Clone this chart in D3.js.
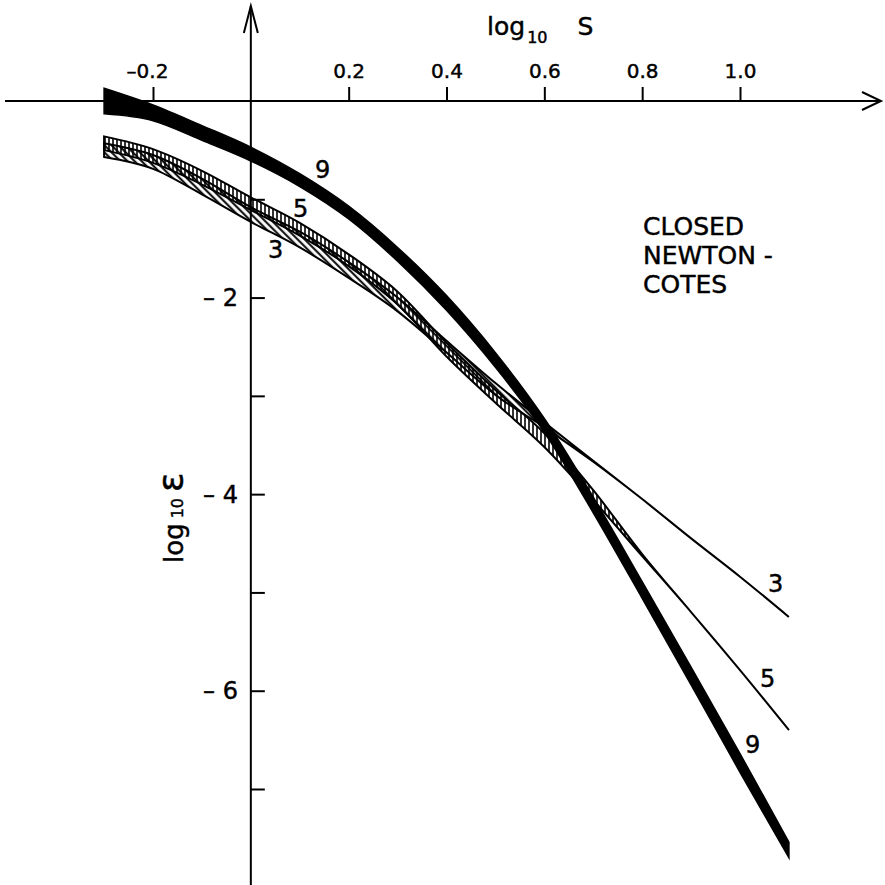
<!DOCTYPE html>
<html><head><meta charset="utf-8">
<script src="https://cdn.jsdelivr.net/npm/d3@7"></script>
<style>body{margin:0;background:#fff} text{font-family:"DejaVu Sans",sans-serif;fill:#000;stroke:#000;stroke-width:0.45px}</style>
</head><body>
<svg id="c" width="885" height="885"></svg>
<script>
// ---- data (log10 S, log10 epsilon band limits) ----
const logS = [-0.3, -0.2, -0.1, 0, 0.1, 0.2, 0.3, 0.4, 0.5, 0.6, 0.7, 0.8, 0.9, 1.0, 1.1];
const rule9Upper = [0.13, -0.04, -0.25, -0.47, -0.74, -1.07, -1.49, -1.98, -2.56, -3.23, -4.03, -4.89, -5.76, -6.64, -7.54];
const rule9Lower = [-0.13, -0.20, -0.40, -0.61, -0.87, -1.20, -1.63, -2.13, -2.71, -3.37, -4.19, -5.06, -5.94, -6.83, -7.70];
const rule5Upper = [-0.36, -0.49, -0.71, -0.98, -1.24, -1.56, -1.94, -2.46, -2.94, -3.38, -3.96, -4.61, -5.20, -5.79, -6.40];
const rule5Lower = [-0.50, -0.63, -0.85, -1.11, -1.37, -1.68, -2.07, -2.60, -3.07, -3.52, -4.06, -4.63, -5.20, -5.79, -6.40];
const rule3Upper = [-0.43, -0.55, -0.79, -1.08, -1.33, -1.64, -2.00, -2.44, -2.87, -3.27, -3.66, -4.05, -4.45, -4.84, -5.25];
const rule3Lower = [-0.57, -0.69, -0.95, -1.23, -1.49, -1.80, -2.14, -2.56, -2.99, -3.32, -3.67, -4.05, -4.45, -4.84, -5.25];
const xTicks = [-0.2, 0.2, 0.4, 0.6, 0.8, 1.0];
const xTickLabels = ["\u20130.2", "0.2", "0.4", "0.6", "0.8", "1.0"];
const yTicks = [-1, -2, -3, -4, -5, -6, -7];
const yLabelTicks = [-2, -4, -6];
const yTickLabels = ["\u2013 2", "\u2013 4", "\u2013 6"];
const noteLines = ["CLOSED", "NEWTON -", "COTES"];

const svg = d3.select("#c");
const x = d3.scaleLinear().domain([-0.2, 1.0]).range([153, 740]);
const y = d3.scaleLinear().domain([0, -7]).range([101, 789]);

// patterns
const defs = svg.append("defs");
const pv = defs.append("pattern").attr("id", "vert").attr("patternUnits", "userSpaceOnUse")
  .attr("width", 4).attr("height", 4);
pv.append("line").attr("x1", 1).attr("x2", 1).attr("y1", -1).attr("y2", 5).attr("stroke", "#000").attr("stroke-width", 1.6);
const pd = defs.append("pattern").attr("id", "diag").attr("patternUnits", "userSpaceOnUse")
  .attr("width", 5).attr("height", 5).attr("patternTransform", "rotate(-45)");
pd.append("line").attr("x1", 1.2).attr("x2", 1.2).attr("y1", -1).attr("y2", 6).attr("stroke", "#000").attr("stroke-width", 2);

const mk = (hi, lo) => logS.map((s, i) => ({s, hi: hi[i], lo: lo[i]}));
const area = d3.area().x(d => x(d.s)).y0(d => y(d.lo)).y1(d => y(d.hi)).curve(d3.curveMonotoneX);

svg.append("path").datum(mk(rule9Upper, rule9Lower)).attr("d", area)
  .attr("fill", "#000").attr("stroke", "#000").attr("stroke-width", 1.5);
svg.append("path").datum(mk(rule5Upper, rule5Lower)).attr("d", area)
  .attr("fill", "url(#vert)").attr("stroke", "#000").attr("stroke-width", 2);
svg.append("path").datum(mk(rule3Upper, rule3Lower)).attr("d", area)
  .attr("fill", "url(#diag)").attr("stroke", "#000").attr("stroke-width", 2);

// axes
const ax = svg.append("g").attr("stroke", "#000").attr("stroke-width", 2).attr("fill", "none");
ax.append("line").attr("x1", 5).attr("x2", 880).attr("y1", y(0)).attr("y2", y(0));
ax.append("path").attr("d", `M862,${y(0)-9} L881,${y(0)} L862,${y(0)+9}`);
ax.append("line").attr("x1", x(0)).attr("x2", x(0)).attr("y1", 6).attr("y2", 885);
ax.append("path").attr("d", `M${x(0)-7},33 L${x(0)},6 L${x(0)+7},33`);

const xAxis = d3.axisTop(x).tickValues(xTicks).tickSize(14).tickPadding(9)
  .tickFormat((d, i) => xTickLabels[i]);
const gx = svg.append("g").attr("transform", `translate(0,${y(0)})`).call(xAxis);
gx.attr("font-size", null).attr("font-family", null);
gx.select(".domain").remove();
gx.selectAll(".tick line").attr("stroke", "#000").attr("stroke-width", 2);
gx.selectAll(".tick text").style("font-size", "20px").attr("fill", "#000")
  .attr("dx", (d, i) => i === 0 ? -6 : 0);

const yAxis = d3.axisRight(y).tickValues(yTicks).tickSize(14).tickFormat("");
const gy = svg.append("g").attr("transform", `translate(${x(0)},0)`).call(yAxis);
gy.select(".domain").remove();
gy.selectAll(".tick line").attr("stroke", "#000").attr("stroke-width", 2);

svg.append("g").selectAll("text").data(yLabelTicks).join("text")
  .attr("x", 238).attr("y", d => y(d)).attr("dy", "0.36em")
  .attr("text-anchor", "end").style("font-size", "24px").text((d, i) => yTickLabels[i]);

// axis titles
const tx = svg.append("text").attr("x", 487).attr("y", 35).style("font-size", "25px");
tx.append("tspan").text("log");
tx.append("tspan").style("font-size", "16px").attr("dy", 8).attr("dx", 2).text("10");
tx.append("tspan").attr("dy", -8).attr("dx", 30).text("S");

const ty = svg.append("text").attr("transform", "translate(183,563) rotate(-90)").style("font-size", "26px");
ty.append("tspan").text("log");
ty.append("tspan").style("font-size", "16px").attr("dx", 5).text("10");
ty.append("tspan").style("font-size", "36px").attr("dx", 6).text("\u03B5");

// curve labels
const lbl = [["9", 315, 178], ["5", 293, 217], ["3", 268, 258], ["3", 768, 592], ["5", 760, 687], ["9", 745, 753]];
svg.append("g").selectAll("text").data(lbl).join("text")
  .attr("x", d => d[1]).attr("y", d => d[2]).style("font-size", "24px").text(d => d[0]);

svg.append("g").selectAll("text").data(noteLines).join("text")
  .attr("x", 643).attr("y", (d, i) => 235 + i * 29).style("font-size", "25px").text(d => d);
</script>
</body></html>
